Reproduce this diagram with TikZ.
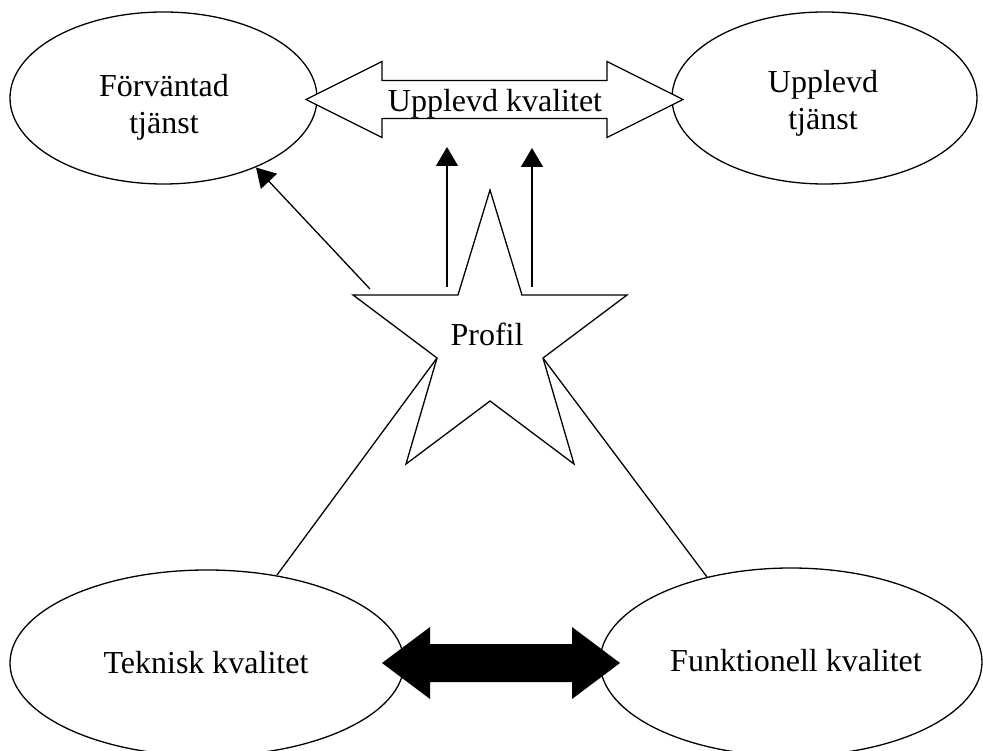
\documentclass[tikz,border=0pt]{standalone}
\usepackage{fontspec}
\setmainfont{Liberation Serif}
\usetikzlibrary{arrows.meta,shapes.geometric}
\begin{document}
\begin{tikzpicture}[x=1pt,y=-1pt,line width=1.3pt,
  ell/.style={draw,ellipse,inner sep=0pt,fill=white},
  txt/.style={font=\fontsize{32}{36}\selectfont,inner sep=0pt,anchor=base},
  arr/.style={-{Triangle[length=19pt,width=22pt]}},
  conn/.style={line width=1.3pt}]
\useasboundingbox (0,0) rectangle (983,751);
% ellipses
\node[ell,minimum width=307pt,minimum height=172pt] (fv) at (163.5,98) {};
\node[ell,minimum width=305pt,minimum height=172pt] (ut) at (824.5,98) {};
\node[ell,minimum width=394pt,minimum height=186pt] (tk) at (207,663) {};
\node[ell,minimum width=382pt,minimum height=188pt] (fk) at (791,662) {};
% ellipse texts
\node[txt] (fv1) at (164,97) {Förväntad};
\node[txt] (fv2) at (164,134) {tjänst};
\node[txt] (ut1) at (823,93) {Upplevd};
\node[txt] (ut2) at (823,130) {tjänst};
\node[txt] (tkt) at (206,673) {Teknisk kvalitet};
\node[txt] (fkt) at (796,671) {Funktionell kvalitet};
% hollow double arrow
\draw[fill=white] (306,99.5) -- (382,61.5) -- (382,80.5) -- (607,80.5) -- (607,61.5)
  -- (683,99.5) -- (607,137.5) -- (607,118.5) -- (382,118.5) -- (382,137.5) -- cycle;
\node[txt] (uk) at (495,112) {Upplevd kvalitet};
% black double arrow
\fill[black] (382,663) -- (430,627) -- (430,644) -- (572,644) -- (572,627)
  -- (620,663) -- (572,699) -- (572,682) -- (430,682) -- (430,699) -- cycle;
% star
\coordinate (sT) at (490,190);
\coordinate (sUR) at (522,295);
\coordinate (sR) at (627,295);
\coordinate (sLR) at (543,358);
\coordinate (sBR) at (574,464);
\coordinate (sB) at (490,401);
\coordinate (sBL) at (406,464);
\coordinate (sLL) at (437,358);
\coordinate (sL) at (353,295);
\coordinate (sUL) at (458,295);
\draw[line join=miter] (sT) -- (sUR) -- (sR) -- (sLR) -- (sBR) -- (sB) -- (sBL) -- (sLL) -- (sL) -- (sUL) -- cycle;
\node[txt] (pr) at (487,345) {Profil};
% arrow endpoints
\coordinate (a1s) at (447,287);
\coordinate (a1e) at (447,147);
\coordinate (a2s) at (532,287);
\coordinate (a2e) at (532,148);
\coordinate (a3s) at (370,289);
\coordinate (a3e) at (256,167.5);
\coordinate (l1e) at (277,575);
\coordinate (l2e) at (707,577);
\draw[arr] (a1s) -- (a1e);
\draw[arr] (a2s) -- (a2e);
\draw[arr] (a3s) -- (a3e);
\draw[conn] (sLL) -- (l1e);
\draw[conn] (sLR) -- (l2e);
\end{tikzpicture}
\end{document}
